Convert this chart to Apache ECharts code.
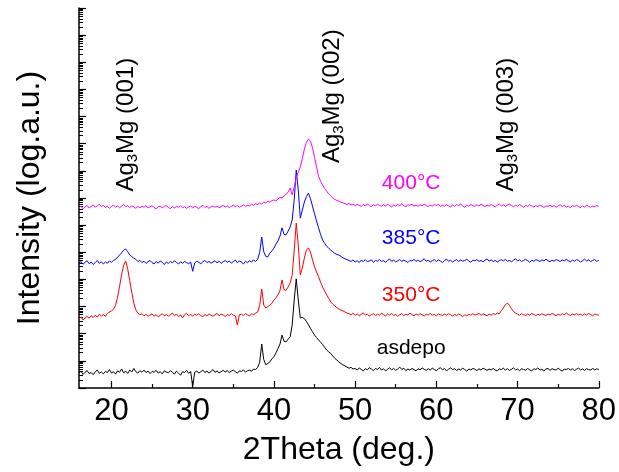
<!DOCTYPE html>
<html>
<head>
<meta charset="utf-8">
<script src="https://cdn.jsdelivr.net/npm/echarts@6/dist/echarts.min.js"></script>
<style>
  html, body { margin: 0; padding: 0; background: #ffffff; }
  #chart { width: 619px; height: 472px; }
</style>
</head>
<body>
<div id="chart"></div>
<script>
// XRD scans, 2θ from 16° to 80° in 0.25° steps.
// Values are log10(intensity) with each sample shifted by whole decades for stacking.
const scanStart = 16;
const scanStep = 0.25;

const asdepo = [
  0.55,0.62,0.50,0.58, 0.64,0.53,0.57,0.49, 0.60,0.66,0.54,0.59, 0.52,0.61,0.57,0.68,
  0.55,0.60,0.51,0.63, 0.58,0.70,0.56,0.62, 0.54,0.66,0.59,0.72, 0.60,0.55,0.64,0.58,
  0.66,0.57,0.62,0.53, 0.61,0.58,0.65,0.55, 0.60,0.52,0.63,0.59, 0.56,0.64,0.58,0.51,
  0.62,0.55,0.47,0.60, 0.57,0.65,0.54,0.61, 0.06,0.58,0.63,0.55, 0.60,0.66,0.57,0.62,
  0.55,0.61,0.68,0.58, 0.63,0.56,0.60,0.65, 0.59,0.64,0.57,0.62, 0.66,0.60,0.55,0.63,
  0.61,0.67,0.58,0.64, 0.66,0.62,0.70,0.68, 0.76,0.95,1.62,1.05, 0.86,0.90,0.96,1.08,
  1.15,1.29,1.45,1.62, 1.95,1.72,1.70,1.80, 1.88,2.32,3.24,4.02, 3.24,2.58,2.60,2.56,
  2.45,2.33,2.20,2.07, 1.95,1.86,1.77,1.69, 1.60,1.50,1.40,1.33, 1.27,1.18,1.09,1.03,
  0.96,0.90,0.85,0.81, 0.77,0.73,0.76,0.70, 0.72,0.66,0.74,0.69, 0.63,0.71,0.67,0.75,
  0.70,0.64,0.72,0.68, 0.76,0.66,0.71,0.63, 0.69,0.74,0.67,0.72, 0.65,0.70,0.77,0.68,
  0.73,0.64,0.70,0.66, 0.72,0.68,0.63,0.71, 0.67,0.74,0.69,0.65, 0.71,0.66,0.73,0.68,
  0.64,0.70,0.75,0.67, 0.72,0.63,0.69,0.74, 0.68,0.71,0.65,0.70, 0.66,0.73,0.68,0.62,
  0.70,0.67,0.72,0.69, 0.64,0.71,0.66,0.73, 0.69,0.65,0.70,0.67, 0.72,0.66,0.63,0.70,
  0.68,0.73,0.66,0.71, 0.65,0.69,0.74,0.67, 0.70,0.64,0.71,0.68, 0.66,0.72,0.67,0.63,
  0.71,0.68,0.74,0.66, 0.69,0.63,0.70,0.72, 0.65,0.71,0.68,0.66, 0.73,0.67,0.62,0.70,
  0.68,0.72,0.66,0.71, 0.64,0.69,0.73,0.67, 0.70,0.65,0.71,0.68, 0.66,0.72,0.67,0.70,
  0.69
];

const t350 = [
  2.55,2.62,2.50,2.58, 2.64,2.57,2.66,2.60, 2.68,2.61,2.72,2.65, 2.70,2.64,2.75,2.80,
  2.84,2.90,3.05,3.35, 3.75,4.18,4.52,4.68, 4.38,3.95,3.52,3.12, 2.88,2.76,2.70,2.74,
  2.66,2.71,2.64,2.69, 2.73,2.65,2.70,2.62, 2.68,2.74,2.66,2.71, 2.64,2.70,2.76,2.67,
  2.72,2.63,2.69,2.58, 2.70,2.75,2.66,2.71, 2.65,2.72,2.68,2.74, 2.67,2.62,2.71,2.66,
  2.73,2.68,2.64,2.70, 2.75,2.66,2.72,2.69, 2.63,2.71,2.67,2.74, 2.68,2.66,2.32,2.70,
  2.72,2.67,2.74,2.69, 2.66,2.73,2.70,2.76, 2.80,3.05,3.65,3.05, 2.95,3.00,3.05,3.12,
  3.24,3.32,3.43,3.60, 3.98,3.62,3.60,3.72, 3.87,4.16,5.08,6.08, 5.27,4.16,4.42,4.79,
  5.08,5.16,5.01,4.72, 4.46,4.28,4.10,3.90, 3.72,3.57,3.43,3.30, 3.17,3.09,3.02,2.96,
  2.91,2.87,2.84,2.80, 2.76,2.74,2.70,2.75, 2.68,2.73,2.66,2.71, 2.77,2.69,2.72,2.65,
  2.70,2.74,2.67,2.72, 2.68,2.76,2.70,2.66, 2.73,2.69,2.75,2.67, 2.71,2.64,2.70,2.74,
  2.67,2.72,2.69,2.76, 2.70,2.66,2.73,2.68, 2.74,2.70,2.65,2.72, 2.69,2.75,2.68,2.71,
  2.66,2.73,2.70,2.67, 2.72,2.68,2.74,2.70, 2.65,2.71,2.67,2.73, 2.69,2.63,2.70,2.66,
  2.72,2.68,2.74,2.69, 2.71,2.75,2.68,2.73, 2.70,2.66,2.72,2.69, 2.74,2.71,2.76,2.73,
  2.85,2.95,3.07,3.13, 3.05,2.92,2.82,2.76, 2.72,2.68,2.74,2.70, 2.67,2.73,2.69,2.75,
  2.71,2.66,2.72,2.68, 2.74,2.70,2.67,2.73, 2.69,2.75,2.71,2.66, 2.72,2.68,2.74,2.70,
  2.76,2.71,2.67,2.73, 2.69,2.74,2.70,2.72, 2.67,2.73,2.69,2.75, 2.71,2.66,2.72,2.70,
  2.68
];

const t385 = [
  4.60,4.66,4.56,4.63, 4.69,4.58,4.64,4.55, 4.62,4.70,4.59,4.65, 4.57,4.64,4.60,4.68,
  4.63,4.70,4.74,4.82, 4.90,4.98,5.08,5.12, 5.02,4.90,4.84,4.78, 4.74,4.66,4.70,4.62,
  4.67,4.59,4.65,4.70, 4.62,4.57,4.66,4.60, 4.68,4.63,4.55,4.64, 4.59,4.66,4.61,4.69,
  4.63,4.57,4.65,4.60, 4.66,4.62,4.58,4.64, 4.30,4.61,4.67,4.63, 4.58,4.65,4.70,4.62,
  4.66,4.60,4.64,4.69, 4.61,4.67,4.59,4.65, 4.70,4.63,4.68,4.60, 4.66,4.71,4.62,4.68,
  4.64,4.57,4.67,4.62, 4.69,4.64,4.72,4.66, 4.74,5.00,5.56,5.02, 4.85,4.83,4.97,5.05,
  5.15,5.30,5.42,5.60, 5.90,5.66,5.64,5.78, 5.93,6.19,6.93,8.03, 7.30,6.26,6.56,6.85,
  7.05,7.18,6.98,6.70, 6.42,6.15,5.90,5.65, 5.45,5.33,5.22,5.15, 5.08,5.02,4.96,4.92,
  4.90,4.85,4.80,4.76, 4.73,4.70,4.66,4.72, 4.64,4.69,4.62,4.71, 4.66,4.73,4.65,4.68,
  4.72,4.63,4.70,4.67, 4.74,4.66,4.69,4.63, 4.70,4.75,4.67,4.71, 4.64,4.69,4.73,4.66,
  4.71,4.67,4.62,4.70, 4.68,4.74,4.66,4.72, 4.65,4.70,4.76,4.67, 4.71,4.64,4.69,4.73,
  4.66,4.72,4.68,4.62, 4.70,4.75,4.67,4.71, 4.64,4.69,4.73,4.66, 4.72,4.67,4.70,4.74,
  4.68,4.63,4.71,4.69, 4.73,4.66,4.70,4.65, 4.71,4.75,4.68,4.72, 4.66,4.70,4.64,4.69,
  4.73,4.68,4.74,4.67, 4.70,4.65,4.71,4.76, 4.68,4.72,4.66,4.70, 4.74,4.69,4.63,4.71,
  4.67,4.73,4.70,4.66, 4.72,4.68,4.75,4.69, 4.65,4.71,4.67,4.73, 4.70,4.66,4.72,4.68,
  4.74,4.69,4.65,4.71, 4.67,4.73,4.70,4.64, 4.69,4.75,4.68,4.72, 4.66,4.70,4.73,4.67,
  4.70
];

const t400 = [
  6.64,6.70,6.60,6.68, 6.72,6.63,6.69,6.75, 6.66,6.71,6.77,6.68, 6.73,6.65,6.70,6.62,
  6.69,6.74,6.66,6.71, 6.64,6.70,6.76,6.68, 6.72,6.65,6.71,6.67, 6.62,6.69,6.64,6.70,
  6.66,6.72,6.63,6.68, 6.71,6.65,6.60,6.67, 6.70,6.64,6.69,6.73, 6.65,6.61,6.68,6.63,
  6.69,6.66,6.72,6.64, 6.68,6.62,6.67,6.71, 6.64,6.70,6.66,6.61, 6.68,6.73,6.65,6.69,
  6.62,6.67,6.71,6.66, 6.70,6.64,6.68,6.73, 6.67,6.71,6.65,6.69, 6.74,6.68,6.72,6.66,
  6.70,6.75,6.69,6.73, 6.71,6.77,6.73,6.79, 6.76,6.82,6.78,6.85, 6.81,6.88,6.84,6.90,
  6.93,6.89,6.97,7.02, 7.00,7.08,7.14,7.22, 7.37,7.12,7.40,7.75, 7.95,8.15,8.45,8.80,
  9.05,9.17,9.10,8.85, 8.50,8.15,7.80,7.62, 7.48,7.35,7.25,7.15, 7.08,7.01,6.95,6.91,
  6.88,6.84,6.82,6.79, 6.76,6.80,6.74,6.78, 6.71,6.77,6.73,6.69, 6.76,6.70,6.78,6.72,
  6.68,6.75,6.71,6.77, 6.73,6.69,6.76,6.70, 6.78,6.72,6.67,6.74, 6.70,6.76,6.72,6.79,
  6.71,6.68,6.75,6.73, 6.77,6.70,6.74,6.69, 6.75,6.71,6.78,6.72, 6.68,6.74,6.70,6.76,
  6.72,6.77,6.69,6.73, 6.70,6.75,6.71,6.67, 6.74,6.69,6.76,6.72, 6.78,6.71,6.66,6.73,
  6.70,6.76,6.72,6.69, 6.75,6.71,6.77,6.73, 6.68,6.74,6.70,6.76, 6.72,6.67,6.73,6.78,
  6.71,6.75,6.69,6.74, 6.77,6.72,6.68,6.73, 6.70,6.76,6.71,6.66, 6.73,6.69,6.75,6.71,
  6.67,6.72,6.68,6.74, 6.70,6.65,6.71,6.69, 6.74,6.68,6.72,6.66, 6.71,6.75,6.69,6.73,
  6.67,6.70,6.64,6.72, 6.69,6.73,6.68,6.65, 6.71,6.67,6.73,6.69, 6.66,6.70,6.68,6.72,
  6.69
];

const sampleSeries = [asdepo, t350, t385, t400];
const sampleNames = ['asdepo', '350°C', '385°C', '400°C'];
const sampleColors = ['#000000', '#ff0000', '#0000ff', '#ff00ff'];

// 2θ tick positions
const xMajorTicks = [20, 30, 40, 50, 60, 70, 80];
const xMinorTicks = [25, 35, 45, 55, 65, 75];
const yDecades = 14;

// Ag3Mg reflections: index label and where its caption sits (2θ, decade)
const peakIndices = ['(001)', '(002)', '(003)'];
const peakCaptionAt = [[21.8, 9.7], [47.2, 10.75], [68.6, 9.7]];
// where each sample's name is written (2θ, decade)
const sampleNameAt = [[56.9, 1.45], [56.9, 3.43], [56.9, 5.53], [56.9, 7.55]];

const FONT = "'Liberation Sans', Arial, sans-serif";

// minor log ticks at 2..9 within each decade
const yMinor = [];
for (let d = 0; d < yDecades; d++) {
  for (let k = 2; k <= 9; k++) yMinor.push(d + Math.log10(k));
}

function toPoints(values) {
  return values.map((v, i) => [scanStart + i * scanStep, v]);
}

const chart = echarts.init(document.getElementById('chart'), null, { renderer: 'canvas' });

const option = {
  animation: false,
  backgroundColor: '#ffffff',
  grid: { left: 79, right: 20, top: 8, bottom: 84, containLabel: false },
  xAxis: [
    {
      type: 'value', min: 16, max: 80, position: 'bottom',
      name: '2Theta (deg.)', nameLocation: 'middle', nameGap: 46,
      nameTextStyle: { fontSize: 32, fontFamily: FONT, color: '#000' },
      axisLine: { show: true, lineStyle: { color: '#000', width: 1.5 } },
      axisTick: { show: true, inside: true, length: 7, customValues: xMajorTicks,
                  lineStyle: { color: '#000', width: 1.2 } },
      axisLabel: { show: true, customValues: xMajorTicks, margin: 8,
                   fontSize: 31, fontFamily: FONT, color: '#000' },
      splitLine: { show: false }
    },
    {
      type: 'value', min: 16, max: 80, position: 'bottom', offset: 0,
      axisLine: { show: false },
      axisTick: { show: true, inside: true, length: 4, customValues: xMinorTicks,
                  lineStyle: { color: '#000', width: 1.2 } },
      axisLabel: { show: false },
      splitLine: { show: false }
    }
  ],
  yAxis: [
    {
      type: 'value', min: 0, max: yDecades, interval: 1, position: 'left',
      name: 'Intensity (log.a.u.)', nameLocation: 'middle', nameGap: 33,
      nameTextStyle: { fontSize: 32, fontFamily: FONT, color: '#000' },
      axisLine: { show: true, lineStyle: { color: '#000', width: 1.5 } },
      axisTick: { show: true, inside: true, length: 7, lineStyle: { color: '#000', width: 1.2 } },
      axisLabel: { show: false },
      splitLine: { show: false }
    },
    {
      type: 'value', min: 0, max: yDecades, position: 'left', offset: 0,
      axisLine: { show: false },
      axisTick: { show: true, inside: true, length: 4, customValues: yMinor,
                  lineStyle: { color: '#000', width: 1 } },
      axisLabel: { show: false },
      splitLine: { show: false }
    }
  ],
  series: sampleSeries.map((vals, i) => ({
    name: sampleNames[i],
    type: 'line',
    xAxisIndex: 0,
    yAxisIndex: 0,
    data: toPoints(vals),
    showSymbol: false,
    symbol: 'none',
    lineStyle: { color: sampleColors[i], width: 1 },
    z: 2 + i
  }))
};

chart.setOption(option);

// captions placed from data coordinates
const graphics = [];
peakIndices.forEach((idx, i) => {
  const p = chart.convertToPixel({ gridIndex: 0 }, peakCaptionAt[i]);
  graphics.push({
    type: 'text', x: p[0], y: p[1], rotation: Math.PI / 2, silent: true,
    style: {
      text: '{m|Ag}{s|3}{m|Mg ' + idx + '}',
      align: 'center', verticalAlign: 'middle',
      rich: {
        m: { fontSize: 24, fontFamily: FONT, fill: '#000', lineHeight: 28 },
        s: { fontSize: 15, fontFamily: FONT, fill: '#000', lineHeight: 15, verticalAlign: 'bottom' }
      }
    }
  });
});
sampleNames.forEach((name, i) => {
  const p = chart.convertToPixel({ gridIndex: 0 }, sampleNameAt[i]);
  graphics.push({
    type: 'text', x: p[0], y: p[1], silent: true,
    style: {
      text: name, fontSize: 21, fontFamily: FONT, fill: sampleColors[i],
      align: 'center', verticalAlign: 'middle'
    }
  });
});
chart.setOption({ graphic: graphics });
</script>
</body>
</html>
